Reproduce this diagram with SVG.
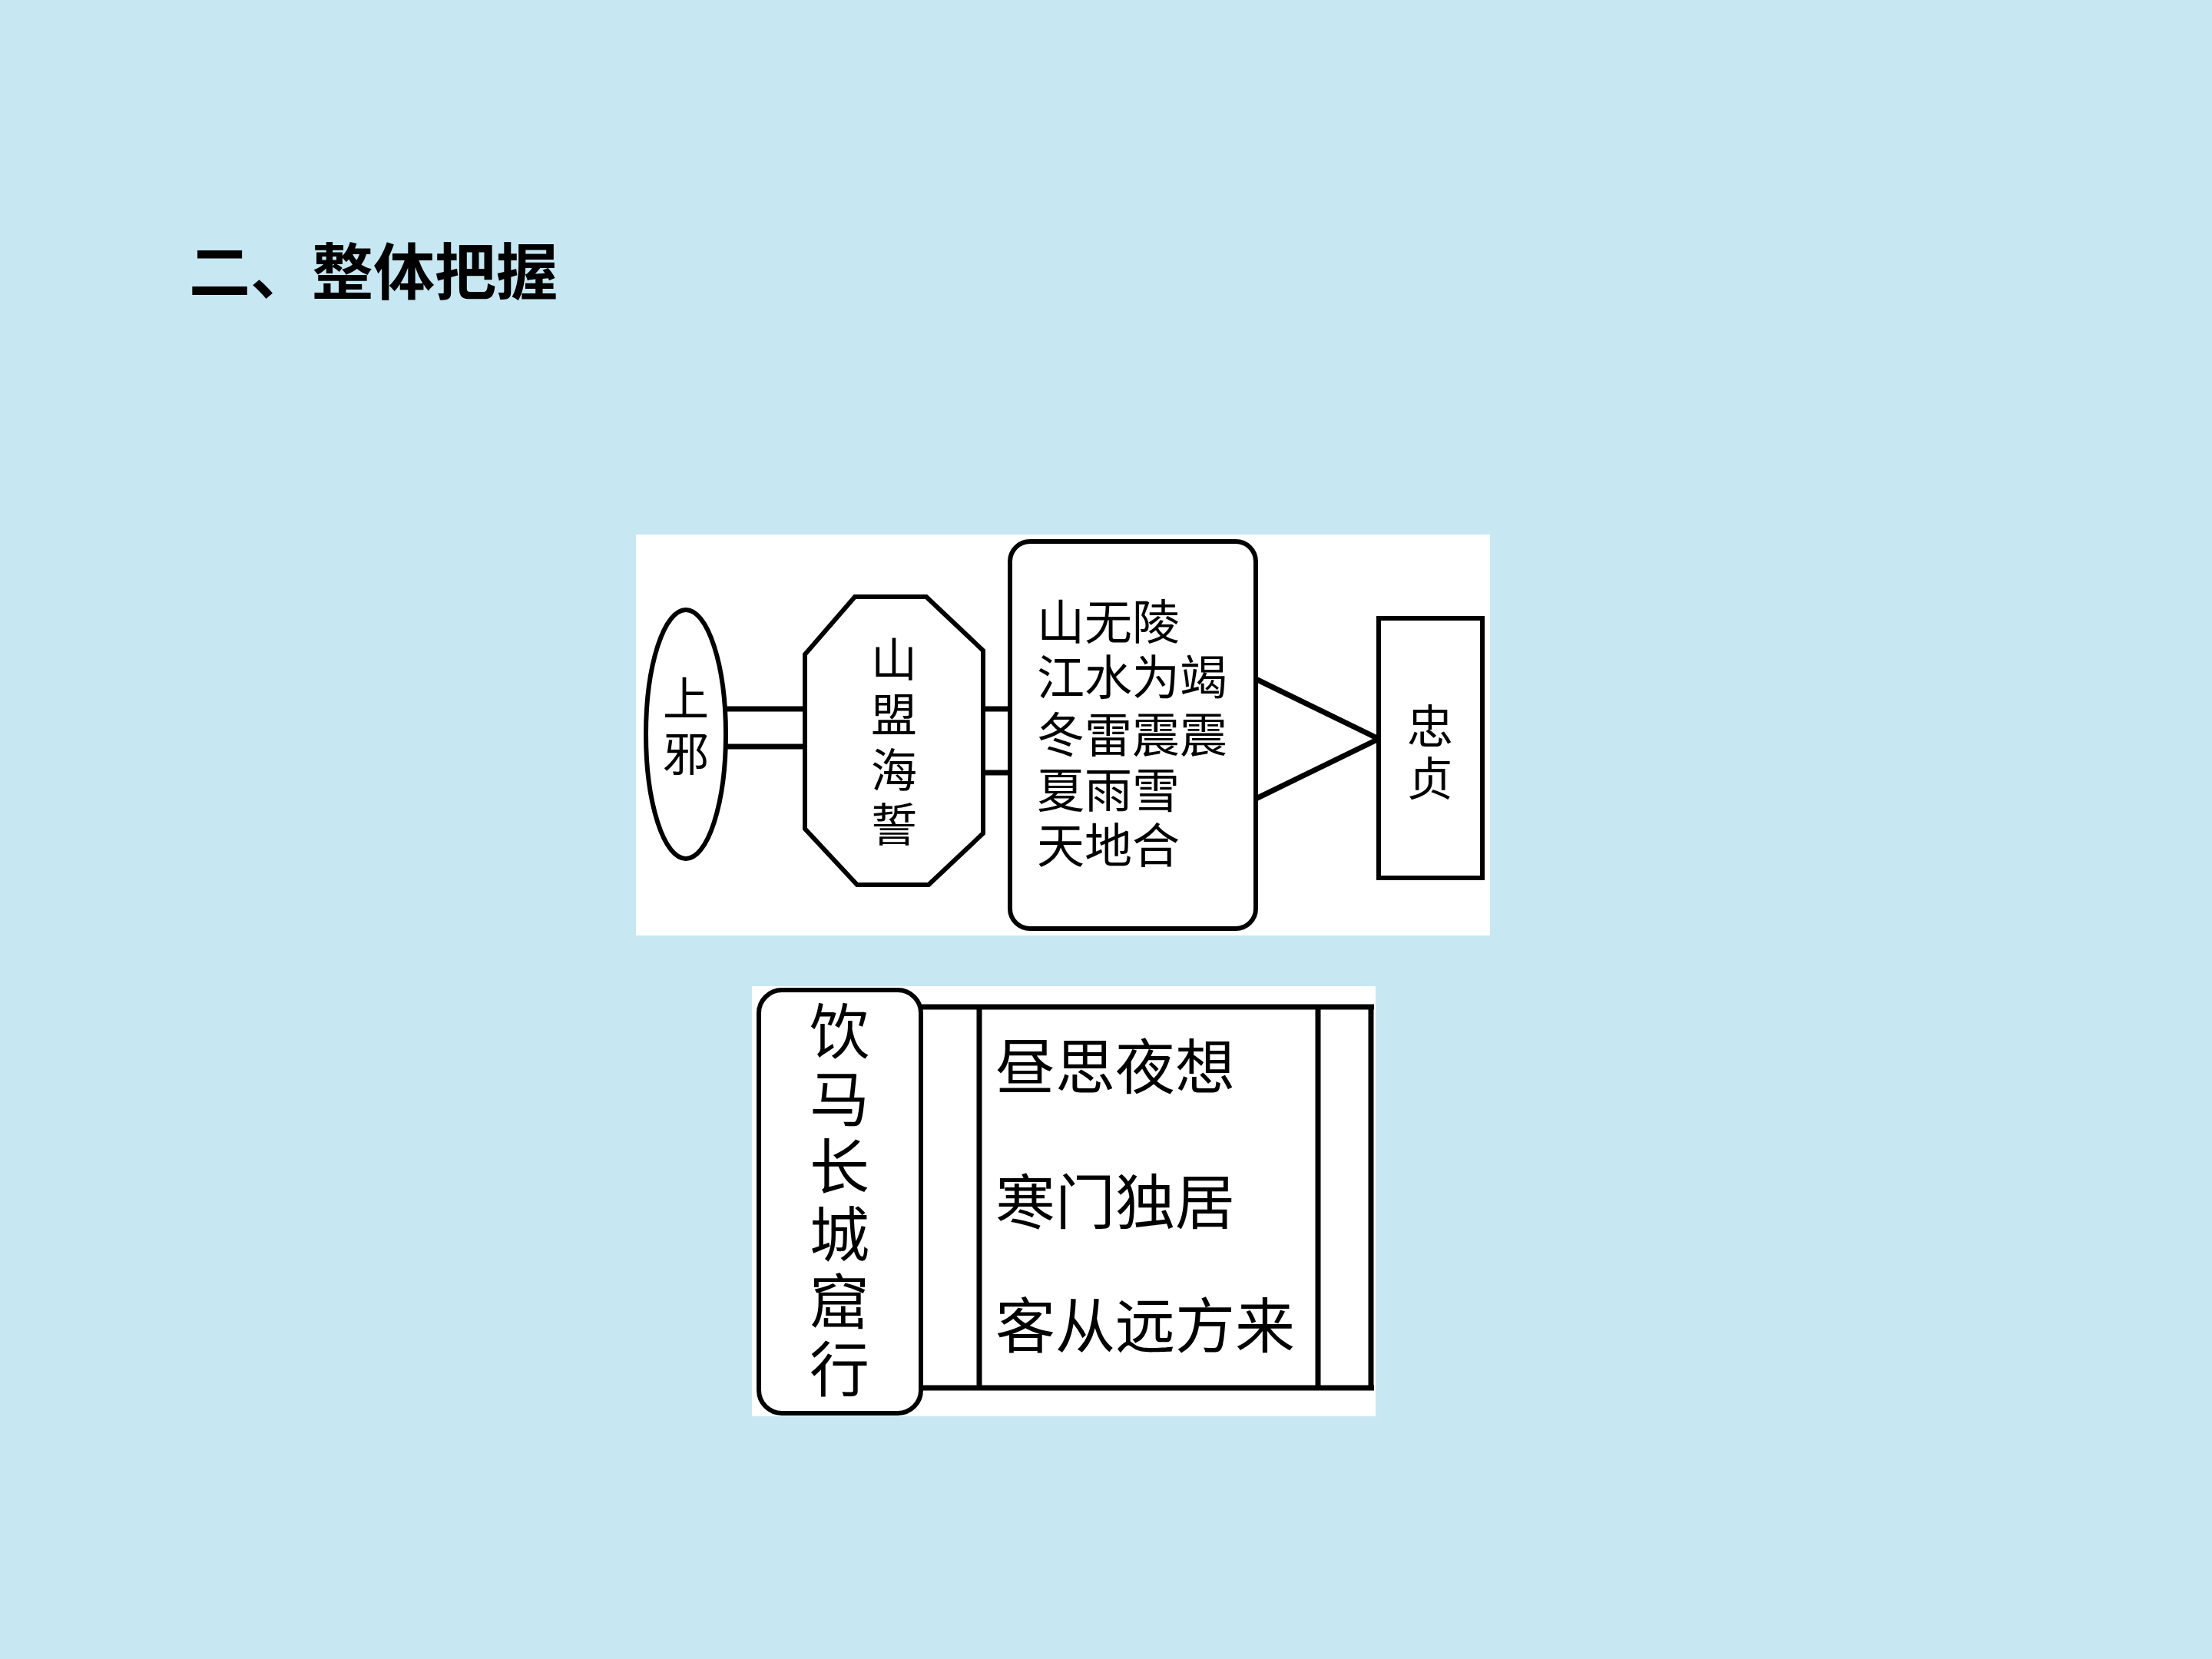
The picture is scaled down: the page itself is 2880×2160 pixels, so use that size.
<svg xmlns="http://www.w3.org/2000/svg" width="2880" height="2160" viewBox="0 0 2880 2160">
<defs>
<style>
.ln{stroke:#000;stroke-width:7;fill:none}
.shape{stroke:#000;stroke-width:6;fill:#fff}
.t{font-family:"Noto Sans CJK SC","Noto Sans CJK JP",sans-serif;fill:#000}
.c62{font-size:62px}
.c60{font-size:60px;text-anchor:middle}
.c80{font-size:78px}
.c80m{font-size:78px;text-anchor:middle}
</style>
</defs>
<rect x="0" y="0" width="2880" height="2160" fill="#c7e7f2"/>
<text class="t" x="246" y="383" font-size="80" font-weight="bold">二、整体把握</text>

<g id="panel1">
<rect x="828" y="696" width="1112" height="522" fill="#fff"/>
</g>
<g id="panel2">
<rect x="979" y="1284" width="812" height="560" fill="#fff"/>
</g>
<g id="connectors">
<line class="ln" x1="945" y1="923" x2="1050" y2="923"/>
<line class="ln" x1="945" y1="972" x2="1050" y2="972"/>
<line class="ln" x1="1280" y1="923" x2="1316" y2="923"/>
<line class="ln" x1="1280" y1="1006" x2="1316" y2="1006"/>
<polyline class="ln" points="1635,884 1795,962 1635,1040"/>
<line class="ln" x1="1200" y1="1311" x2="1789" y2="1311"/>
<line class="ln" x1="1200" y1="1807" x2="1789" y2="1807"/>
<line class="ln" x1="1275" y1="1311" x2="1275" y2="1807"/>
<line class="ln" x1="1716" y1="1311" x2="1716" y2="1807"/>
<line class="ln" x1="1785" y1="1311" x2="1785" y2="1807"/>
</g>
<g id="node-shangye">
<ellipse class="shape" cx="893" cy="956" rx="52" ry="162"/>
<text class="t c60" x="893" y="932">上</text>
<text class="t c60" x="893" y="1004">邪</text>
</g>
<g id="node-shanmeng">
<polygon class="shape" points="1113,777 1206,777 1280,847 1280,1085 1209,1152 1116,1152 1048,1079 1048,852"/>
<text class="t c60" x="1164" y="881">山</text>
<text class="t c60" x="1164" y="953">盟</text>
<text class="t c60" x="1164" y="1025">海</text>
<text class="t c60" x="1164" y="1096">誓</text>
</g>
<g id="node-shanwuling">
<rect class="shape" x="1315" y="705" width="320" height="504" rx="26" ry="26"/>
<text class="t c62" x="1350" y="833">山无陵</text>
<text class="t c62" x="1350" y="905">江水为竭</text>
<text class="t c62" x="1350" y="980">冬雷震震</text>
<text class="t c62" x="1350" y="1052">夏雨雪</text>
<text class="t c62" x="1350" y="1124">天地合</text>
</g>
<g id="node-zhongzhen">
<rect class="shape" x="1795" y="805" width="135" height="338"/>
<text class="t c60" x="1862" y="968">忠</text>
<text class="t c60" x="1862" y="1036">贞</text>
</g>
<g id="node-yinma">
<rect class="shape" x="988" y="1289" width="211" height="551" rx="30" ry="30" stroke-width="7"/>
<text class="t c80m" x="1093" y="1372">饮</text>
<text class="t c80m" x="1093" y="1460">马</text>
<text class="t c80m" x="1093" y="1548">长</text>
<text class="t c80m" x="1093" y="1636">城</text>
<text class="t c80m" x="1093" y="1724">窟</text>
<text class="t c80m" x="1093" y="1812">行</text>
</g>
<g id="node-lines">
<text class="t c80" x="1296" y="1418">昼思夜想</text>
<text class="t c80" x="1296" y="1594">寒门独居</text>
<text class="t c80" x="1296" y="1755">客从远方来</text>
</g>
</svg>
